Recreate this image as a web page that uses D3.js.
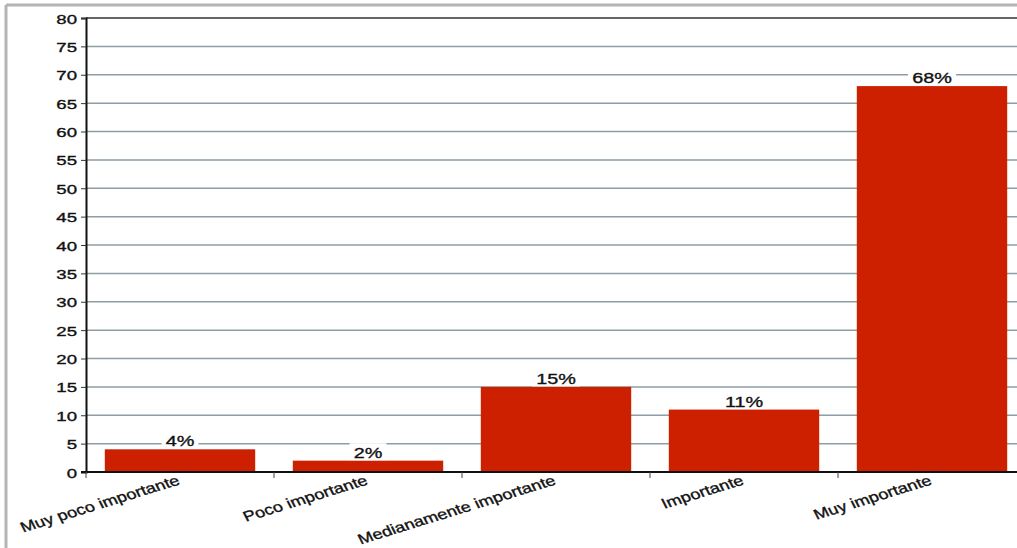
<!DOCTYPE html>
<html>
<head>
<meta charset="utf-8">
<script src="https://cdn.jsdelivr.net/npm/d3@7"></script>
<style>
  html, body { margin: 0; padding: 0; background: #fff; }
  svg { display: block; }
  text { font-family: "Liberation Sans", Arial, sans-serif; fill: #111; stroke: #111; stroke-width: 0.35px; }
</style>
</head>
<body>
<svg id="chart" width="1017" height="548"></svg>
<script>
const categories = ["Muy poco importante", "Poco importante", "Medianamente importante", "Importante", "Muy importante"];
const values = [4, 2, 15, 11, 68];
const valueLabels = ["4%", "2%", "15%", "11%", "68%"];
const yTicks = [0, 5, 10, 15, 20, 25, 30, 35, 40, 45, 50, 55, 60, 65, 70, 75, 80];

(function () {
const svg = d3.select("#chart");
const W = 1017, H = 548;
const plotLeft = 86, plotRight = 1026, plotTop = 18, plotBottom = 472;
const sx = 1.28; // horizontal stretch of glyphs seen in the reference

// outer gray frame (top and left only visible)
svg.append("line").attr("x1", 6).attr("x2", W).attr("y1", 5).attr("y2", 5)
  .attr("stroke", "#b5b5b5").attr("stroke-width", 3);
svg.append("line").attr("x1", 6).attr("x2", 6).attr("y1", 5).attr("y2", H)
  .attr("stroke", "#b5b5b5").attr("stroke-width", 3);

const x = d3.scaleBand().domain(categories).range([plotLeft, plotRight])
  .paddingInner(0.2).paddingOuter(0.1);
const y = d3.scaleLinear().domain([0, 80]).range([plotBottom, plotTop]);

// gridlines
const g = svg.append("g");
g.selectAll("line.grid").data(yTicks.filter(t => t > 0 && t < 80)).enter()
  .append("line").attr("class", "grid")
  .attr("x1", plotLeft).attr("x2", W)
  .attr("y1", d => y(d)).attr("y2", d => y(d))
  .attr("stroke", "#8d9ea7").attr("stroke-width", 1.5);
// top frame line
g.append("line").attr("x1", plotLeft).attr("x2", W).attr("y1", y(80)).attr("y2", y(80))
  .attr("stroke", "#333").attr("stroke-width", 1.5);

// bars
g.selectAll("rect.bar").data(categories).enter().append("rect")
  .attr("class", "bar")
  .attr("x", d => x(d))
  .attr("width", x.bandwidth())
  .attr("y", (d, i) => y(values[i]))
  .attr("height", (d, i) => y(0) - y(values[i]))
  .attr("fill", "#cc2000");

// y axis
const yAxis = d3.axisLeft(y).tickValues(yTicks).tickSize(5).tickFormat(d3.format("d"));
const ya = svg.append("g").attr("transform", `translate(${plotLeft},0)`).call(yAxis);
ya.select(".domain").attr("stroke", "#111").attr("stroke-width", 2);
ya.selectAll(".tick line").attr("stroke", "#333");
ya.selectAll(".tick text")
  .attr("x", null).attr("dy", null)
  .attr("font-size", 13.5)
  .attr("text-anchor", "end")
  .attr("transform", `translate(-9,5) scale(1.38,1)`)
  .style("font-family", "'Liberation Sans', Arial, sans-serif")
  .attr("fill", "#111");

// x axis baseline
svg.append("line").attr("x1", plotLeft - 5).attr("x2", W).attr("y1", y(0)).attr("y2", y(0))
  .attr("stroke", "#111").attr("stroke-width", 2);
// category boundary ticks
const step = x.step();
const bounds = categories.map((c, i) => plotLeft + i * step).concat([plotLeft + categories.length * step]);
svg.selectAll("line.xt").data(bounds)
  .enter().append("line").attr("class", "xt")
  .attr("x1", d => d).attr("x2", d => d)
  .attr("y1", y(0)).attr("y2", y(0) + 6)
  .attr("stroke", "#444").attr("stroke-width", 1);

// value labels with white boxes
const lab = svg.append("g");
categories.forEach((c, i) => {
  const cx = x(c) + x.bandwidth() / 2;
  const by = y(values[i]);
  const t = lab.append("text")
    .attr("text-anchor", "middle")
    .attr("font-size", 15.5)
    .attr("transform", `translate(${cx},${by - 3}) scale(${sx},1)`)
    .text(valueLabels[i]);
  const bb = t.node().getBBox();
  const w = bb.width * sx + 8;
  lab.insert("rect", "text")
    .attr("x", cx - w / 2).attr("width", w)
    .attr("y", by - 17.5).attr("height", 17)
    .attr("fill", "#fff");
});

// category labels
svg.selectAll("text.cat").data(categories).enter().append("text")
  .attr("class", "cat")
  .attr("text-anchor", "end")
  .attr("font-size", 14.2)
  .attr("transform", d => `translate(${x(d) + x.bandwidth() / 2 + 1},484) scale(${sx},1) rotate(-21.5)`)
  .text(d => d);
})();
</script>
</body>
</html>
